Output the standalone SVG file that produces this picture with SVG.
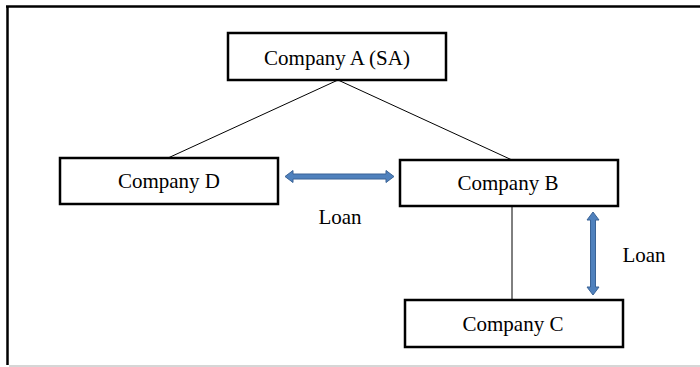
<svg xmlns="http://www.w3.org/2000/svg" width="700" height="367" viewBox="0 0 700 367">
  <style>
    .box { fill: #ffffff; stroke: #000000; stroke-width: 2.5; }
    .label { font-family: "Liberation Serif", "Times New Roman", serif; font-size: 21px; fill: #000000; text-anchor: middle; }
    .link { stroke: #000000; stroke-width: 1; fill: none; }
    .loan { fill: #4f81bd; stroke: #3a6396; stroke-width: 1; }
  </style>
  <rect width="700" height="367" fill="#ffffff"/>

  <!-- outer frame -->
  <g id="frame">
    <line x1="6" y1="6.5" x2="700" y2="6.5" stroke="#000000" stroke-width="2.5"/>
    <line x1="7.5" y1="6" x2="7.5" y2="365" stroke="#000000" stroke-width="2.5"/>
    <line x1="9" y1="366" x2="700" y2="366" stroke="#c8c8c8" stroke-width="1.5"/>
  </g>

  <!-- connectors -->
  <g id="connectors">
    <line class="link" x1="338" y1="80" x2="168" y2="158"/>
    <line class="link" x1="338" y1="80" x2="512" y2="160"/>
    <line class="link" x1="512" y1="206" x2="512" y2="300" stroke="#404040"/>
    <!-- horizontal double arrow D <-> B -->
    <path class="loan" d="M285,176.5 L293,170.5 L293,174 L386,174 L386,170.5 L394,176.5 L386,182.5 L386,179 L293,179 L293,182.5 Z"/>
    <!-- vertical double arrow B <-> C -->
    <path class="loan" d="M593,212 L599,220 L595.5,220 L595.5,287 L599,287 L593,295 L587,287 L590.5,287 L590.5,220 L587,220 Z"/>
    <text class="label" x="340" y="224">Loan</text>
    <text class="label" x="644" y="262">Loan</text>
  </g>

  <g id="company-a">
    <rect class="box" x="228" y="33" width="218" height="47"/>
    <text class="label" x="337" y="65">Company A (SA)</text>
  </g>

  <g id="company-d">
    <rect class="box" x="60" y="158" width="218" height="46"/>
    <text class="label" x="169" y="188">Company D</text>
  </g>

  <g id="company-b">
    <rect class="box" x="400" y="160" width="218" height="46"/>
    <text class="label" x="508" y="190">Company B</text>
  </g>

  <g id="company-c">
    <rect class="box" x="405" y="300" width="218" height="47"/>
    <text class="label" x="513" y="331">Company C</text>
  </g>
</svg>
